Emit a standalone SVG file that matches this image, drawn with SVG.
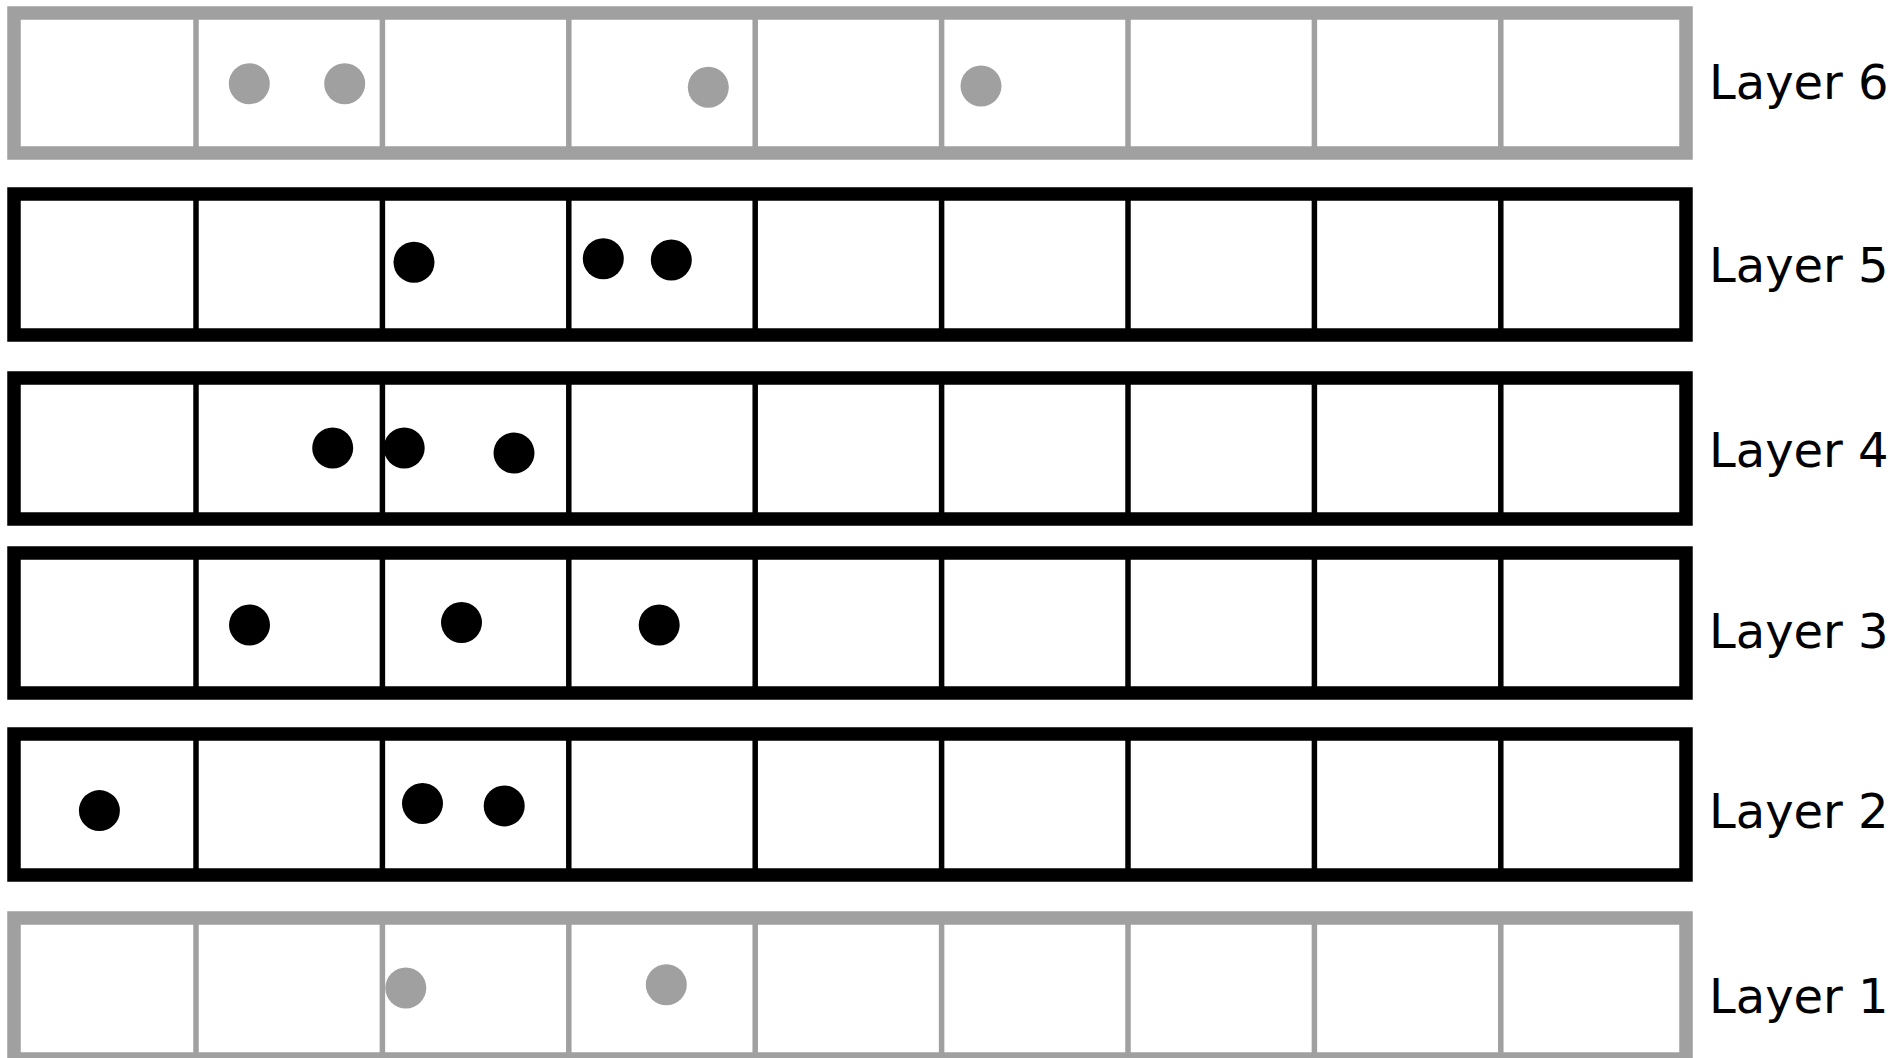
<svg xmlns="http://www.w3.org/2000/svg" width="1903" height="1058" viewBox="0 0 1903 1058">
<style>
.frame-g{fill:#fff;stroke:#a0a0a0;stroke-width:13.5}
.frame-b{fill:#fff;stroke:#000;stroke-width:13.5}
.div-g{stroke:#a0a0a0;stroke-width:5.5}
.div-b{stroke:#000;stroke-width:5.5}
.dot-g{fill:#a0a0a0}
.dot-b{fill:#000}
.lbl{font-family:"DejaVu Sans","Liberation Sans",sans-serif;font-size:48px;fill:#000}
</style>
<defs>
<g id="divs">
<line x1="196" y1="0" x2="196" y2="141"/>
<line x1="382.4" y1="0" x2="382.4" y2="141"/>
<line x1="568.8" y1="0" x2="568.8" y2="141"/>
<line x1="755.2" y1="0" x2="755.2" y2="141"/>
<line x1="941.6" y1="0" x2="941.6" y2="141"/>
<line x1="1128" y1="0" x2="1128" y2="141"/>
<line x1="1314.4" y1="0" x2="1314.4" y2="141"/>
<line x1="1500.8" y1="0" x2="1500.8" y2="141"/>
</g>
</defs>
<rect width="1903" height="1058" fill="#fff"/>
<g id="layer6">
<rect class="frame-g" x="14" y="13" width="1672" height="140"/>
<use href="#divs" class="div-g" y="13"/>
<circle class="dot-g" cx="249.3" cy="83.7" r="20.5"/>
<circle class="dot-g" cx="344.7" cy="83.7" r="20.5"/>
<circle class="dot-g" cx="708.3" cy="87.3" r="20.5"/>
<circle class="dot-g" cx="981" cy="86" r="20.5"/>
<text class="lbl" x="1709" y="99">Layer 6</text>
</g>
<g id="layer5">
<rect class="frame-b" x="14" y="194" width="1672" height="141"/>
<use href="#divs" class="div-b" y="194"/>
<circle class="dot-b" cx="414" cy="262.3" r="20.5"/>
<circle class="dot-b" cx="603.3" cy="258.7" r="20.5"/>
<circle class="dot-b" cx="671.3" cy="260" r="20.5"/>
<text class="lbl" x="1709" y="282">Layer 5</text>
</g>
<g id="layer4">
<rect class="frame-b" x="14" y="378" width="1672" height="141"/>
<use href="#divs" class="div-b" y="378"/>
<circle class="dot-b" cx="332.7" cy="448" r="20.5"/>
<circle class="dot-b" cx="404.2" cy="448" r="20.5"/>
<circle class="dot-b" cx="514" cy="453" r="20.5"/>
<text class="lbl" x="1709" y="467">Layer 4</text>
</g>
<g id="layer3">
<rect class="frame-b" x="14" y="553" width="1672" height="140"/>
<use href="#divs" class="div-b" y="553"/>
<circle class="dot-b" cx="249.5" cy="625" r="20.5"/>
<circle class="dot-b" cx="461.5" cy="622.5" r="20.5"/>
<circle class="dot-b" cx="659.2" cy="625" r="20.5"/>
<text class="lbl" x="1709" y="648">Layer 3</text>
</g>
<g id="layer2">
<rect class="frame-b" x="14" y="734" width="1672" height="141"/>
<use href="#divs" class="div-b" y="734"/>
<circle class="dot-b" cx="99.4" cy="810.6" r="20.5"/>
<circle class="dot-b" cx="422.5" cy="803.5" r="20.5"/>
<circle class="dot-b" cx="504.2" cy="805.9" r="20.5"/>
<text class="lbl" x="1709" y="828">Layer 2</text>
</g>
<g id="layer1">
<rect class="frame-g" x="14" y="918" width="1672" height="141"/>
<use href="#divs" class="div-g" y="918"/>
<circle class="dot-g" cx="405.8" cy="988" r="20.5"/>
<circle class="dot-g" cx="666.3" cy="984.7" r="20.5"/>
<text class="lbl" x="1709" y="1013">Layer 1</text>
</g>
<g id="connectors"/>
</svg>
